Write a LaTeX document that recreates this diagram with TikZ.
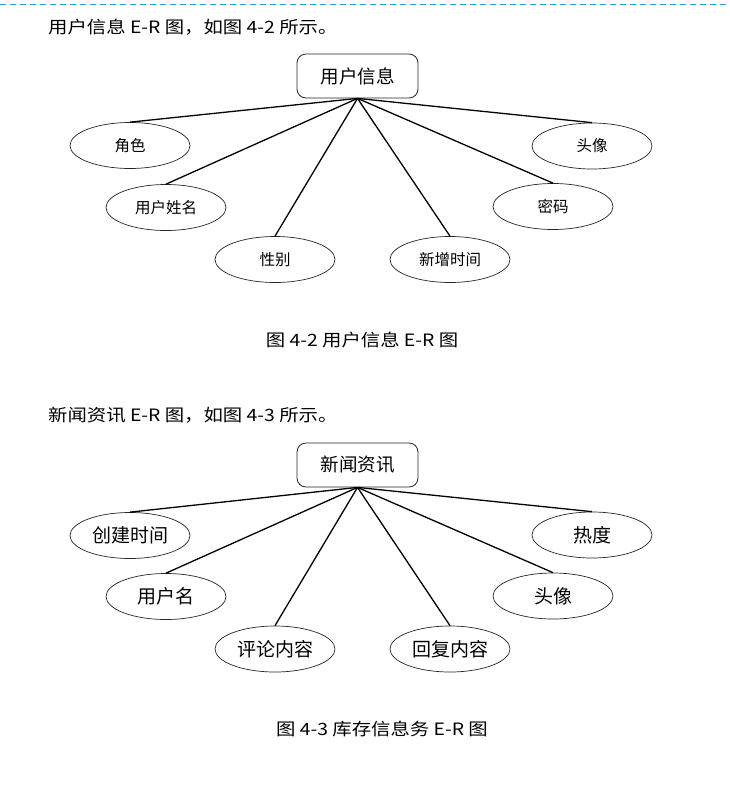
\documentclass[tikz,border=0pt]{standalone}
\usepackage{fontspec}
\setmainfont{Liberation Serif}
\newfontfamily\cjk{Noto Sans CJK SC}
\usetikzlibrary{shapes.geometric}
\definecolor{dashblue}{RGB}{46,155,219}
\newcommand{\widen}[1]{\scalebox{1.14}[1]{#1}}
\begin{document}
\begin{tikzpicture}[x=1pt,y=-1pt,
  bodytext/.style={anchor=west, inner sep=0pt, font=\cjk\fontsize{17}{17}\selectfont},
  captext/.style={inner sep=0pt, font=\cjk\fontsize{17}{17}\selectfont},
  entity/.style={draw=black!85, rounded corners=9pt, minimum width=121pt, minimum height=44pt, line width=0.8pt, fill=white},
  attr/.style={ellipse, draw=black!85, minimum width=120pt, minimum height=46pt, inner sep=0pt, line width=0.7pt, fill=white},
  smalllab/.style={font=\cjk\fontsize{15.5}{15.5}\selectfont},
  boxlab/.style={font=\cjk\fontsize{18.5}{18.5}\selectfont},
  biglab/.style={font=\cjk\fontsize{19}{19}\selectfont},
  link/.style={line width=1.3pt}]
\useasboundingbox (0,0) rectangle (729,798);
\fill[white] (0,0) rectangle (729,798);
\coordinate (dl) at (0,4);
\coordinate (dr) at (729,4);
\draw[dashblue, line width=1pt, dash pattern=on 6pt off 4pt] (dl) -- (dr);

% ---- Part 1
\node[bodytext] (t1) at (48,27) {\widen{用户信息 E-R 图，如图 4-2 所示。}};
\node[entity, boxlab] (e1) at (357.5,76) {用户信息};
\node[attr, smalllab] (a1) at (130,145.5) {角色};
\node[attr, smalllab] (a2) at (166,207.5) {用户姓名};
\node[attr, smalllab] (a3) at (275,259.5) {性别};
\node[attr, smalllab] (a4) at (450,259.5) {新增时间};
\node[attr, smalllab] (a5) at (553,206.5) {密码};
\node[attr, smalllab] (a6) at (592,146) {头像};
\foreach \n in {a1,a2,a3,a4,a5,a6} \draw[link] (e1.south) -- (\n.north);
\node[captext] (c1) at (362,340) {\widen{图 4-2 用户信息 E-R 图}};

% ---- Part 2
\node[bodytext] (t2) at (48,415) {\widen{新闻资讯 E-R 图，如图 4-3 所示。}};
\node[entity, boxlab] (e2) at (357.5,465) {新闻资讯};
\node[attr, biglab] (b1) at (130,535.5) {创建时间};
\node[attr, biglab] (b2) at (166,596.5) {用户名};
\node[attr, biglab] (b3) at (275,649) {评论内容};
\node[attr, biglab] (b4) at (450,649) {回复内容};
\node[attr, biglab] (b5) at (553,596) {头像};
\node[attr, biglab] (b6) at (592,535) {热度};
\foreach \n in {b1,b2,b3,b4,b5,b6} \draw[link] (e2.south) -- (\n.north);
\node[captext] (c2) at (382,729) {\widen{图 4-3 库存信息务 E-R 图}};
\end{tikzpicture}
\end{document}
